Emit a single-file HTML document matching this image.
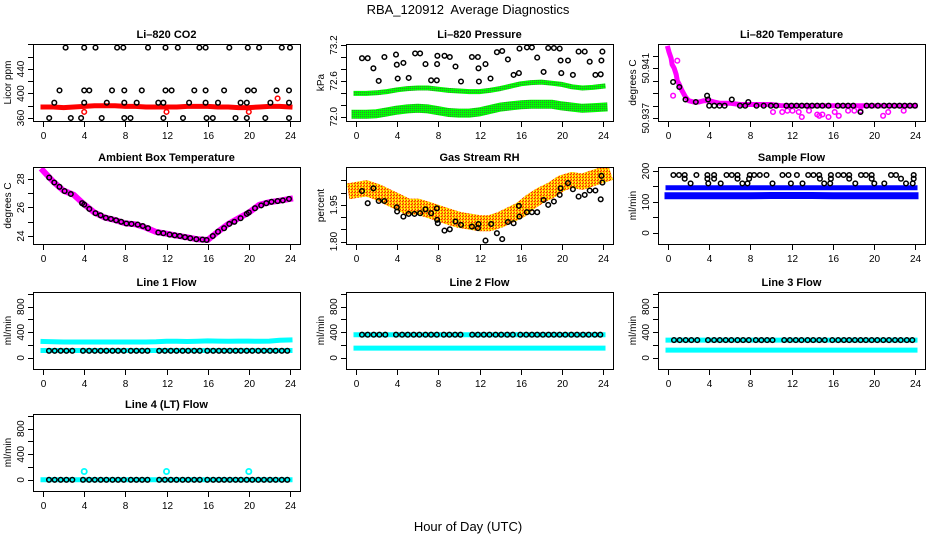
<!DOCTYPE html>
<html><head><meta charset="utf-8"><style>
html,body{margin:0;padding:0;background:#fff;}
svg{display:block;font-family:"Liberation Sans",Arial,sans-serif;}
</style></head><body>
<svg id="chart" width="936" height="540" viewBox="0 0 936 540" xmlns="http://www.w3.org/2000/svg">
<defs>
<pattern id="rhpat" width="3" height="3" patternUnits="userSpaceOnUse"><rect width="3" height="3" fill="#FFB000"/><rect x="0" y="0" width="1" height="1" fill="#FF2000"/><rect x="2" y="1" width="1" height="1" fill="#FFFF00"/><rect x="1" y="2" width="1" height="1" fill="#FF3000"/><rect x="2" y="2" width="1" height="1" fill="#FFFF40"/></pattern>
<pattern id="grpat" width="2" height="2" patternUnits="userSpaceOnUse"><rect width="2" height="2" fill="#00FF00"/><rect x="0" y="0" width="1" height="1" fill="#338833"/></pattern>
</defs>
<text x="468" y="14" text-anchor="middle" font-size="13" xml:space="preserve">RBA_120912  Average Diagnostics</text>
<text x="468" y="531" text-anchor="middle" font-size="13">Hour of Day (UTC)</text>
</svg>
<script>
const svg=document.getElementById('chart');
const NS='http://www.w3.org/2000/svg';
function mk(tag,attrs,parent){const e=document.createElementNS(NS,tag);for(const k in attrs)e.setAttribute(k,attrs[k]);(parent||svg).appendChild(e);return e;}

// ---------- data ----------
const xTicks=[0,4,8,12,16,20,24];
// CO2
const co2BandHours=[0,1,2,3,4,5,6,7,8,9,10,11,12,13,14,15,16,17,18,19,20,21,22,23,24];
const co2BandVals=[378,378,377,378,379,380,380,380,379,379,378,378,378,378,379,379,379,378,378,377,377,378,379,379,378];
const co2RedOutHours=[4.0,12.0,20.0,22.8];
const co2RedOutVals=[370,370,370,392];
const co2BlackHours=[2.2,4.0,5.1,7.2,7.8,10.2,11.9,13.1,15.2,15.8,18.1,19.9,21.0,23.2,24.0,
1.6,4.0,4.5,6.7,7.9,9.6,11.9,12.5,14.7,15.8,17.6,19.9,20.5,22.7,23.9,
1.1,4.0,6.2,7.9,9.1,11.2,11.7,14.2,15.8,17.0,19.2,19.8,22.1,23.9,
0.6,2.7,3.7,5.7,7.9,8.5,11.7,13.6,15.9,16.5,18.7,19.8,21.6,23.9];
const co2BlackVals=[475,475,475,475,475,475,475,475,475,475,475,475,475,475,475,
405,405,405,405,405,405,405,405,405,405,405,405,405,405,405,
385,385,385,385,385,385,385,385,385,385,385,385,385,385,
360,360,360,360,360,360,360,360,360,360,360,360,360,360];
// Pressure
const presHours=[0,1,2,3,4,5,6,7,8,9,10,11,12,13,14,15,16,17,18,19,20,21,22,23,24];
const presUpper=[72.39,72.39,72.40,72.42,72.45,72.47,72.48,72.48,72.46,72.44,72.43,72.42,72.42,72.44,72.47,72.51,72.55,72.57,72.58,72.56,72.54,72.50,72.48,72.49,72.51];
const presLower=[72.04,72.04,72.05,72.08,72.11,72.13,72.14,72.13,72.10,72.07,72.06,72.06,72.08,72.12,72.16,72.18,72.20,72.21,72.21,72.21,72.18,72.16,72.14,72.15,72.16];
const presBlackHours=[0.58,1.14,1.69,2.21,2.76,3.89,3.96,4.05,4.61,5.12,5.74,6.23,6.75,7.30,7.85,7.88,7.91,8.6,9.11,9.67,10.2,11.26,11.84,11.9,11.94,12.58,13.07,13.69,14.21,14.76,15.31,15.83,15.89,16.61,17.09,17.61,18.23,18.68,19.23,19.79,19.88,19.95,20.6,21.08,21.63,22.22,22.71,23.26,23.78,23.84,23.94];
const presBlackVals=[72.98,72.98,72.81,72.60,73.00,73.04,72.87,72.64,72.90,72.65,73.06,73.06,72.88,72.61,72.61,72.88,73.02,73.02,73.00,72.84,72.59,73.00,73.00,72.81,72.59,72.88,72.64,73.08,73.10,72.96,72.70,72.73,73.14,73.16,73.16,72.99,72.75,73.15,73.15,73.14,72.94,72.73,72.94,72.70,73.09,73.09,72.92,72.70,72.71,72.94,73.09];
// Li-820 temperature
const tmpMagHours=[0,0.1,0.3,0.4,0.6,0.8,0.9,1.1,1.3,1.5,1.7,2,2.5,3,3.5,4,4.5,5,6,7,8,9,10,11,12,13,14,15,16,17,18,19,20,21,22,23,24];
const tmpMagVals=[50.9426,50.9423,50.9418,50.9413,50.9410,50.9405,50.9400,50.9397,50.9393,50.9390,50.9387,50.9384,50.9383,50.9383,50.9384,50.9384,50.9383,50.9382,50.9382,50.9381,50.9381,50.9381,50.9381,50.9380,50.9380,50.9380,50.9380,50.9380,50.9380,50.9380,50.9380,50.9380,50.9380,50.9380,50.9380,50.9380,50.9380];
const tmpMagLowHours=[10.2,11.1,11.6,12.1,12.7,13.0,13.7,14.5,14.7,15.0,15.6,16.2,16.6,17.5,18.1,18.7,20.9,21.4,22.9,0.5,0.9];
const tmpMagLowVals=[50.9375,50.9375,50.9376,50.9376,50.9375,50.9371,50.9376,50.9373,50.9372,50.9373,50.9371,50.9375,50.9372,50.9376,50.9376,50.9376,50.9372,50.9375,50.9376,50.9388,50.9416];
const tmpBlackHours=[0.5,1.1,1.7,2.7,3.8,3.9,4.0,4.5,5.0,5.5,6.2,7.0,7.5,7.8,8.6,9.3,10.0,10.5,11.5,12.0,12.5,13.0,13.5,14.0,14.5,15.0,15.6,16.5,17.0,17.5,18.0,18.7,19.3,19.8,20.4,21.0,21.5,22.0,22.5,23.0,23.5,24.0];
const tmpBlackVals=[50.9399,50.9395,50.9385,50.9383,50.9388,50.9385,50.9380,50.9380,50.9380,50.9380,50.9385,50.9380,50.9380,50.9383,50.9380,50.9380,50.9380,50.9380,50.9380,50.9380,50.9380,50.9380,50.9380,50.9380,50.9380,50.9380,50.9380,50.9380,50.9380,50.9380,50.9380,50.9375,50.9380,50.9380,50.9380,50.9380,50.9380,50.9380,50.9380,50.9380,50.9380,50.9380];
// Ambient
const ambHours=[0,1,2,3,4,5,6,7,8,9,10,11,12,13,14,15,16,17,18,19,20,21,22,23,24];
const ambVals=[28.58,27.81,27.18,26.88,26.22,25.64,25.29,25.12,24.89,24.82,24.58,24.28,24.16,24.02,23.91,23.77,23.72,24.30,24.84,25.24,25.64,26.18,26.37,26.48,26.60];
const ambBlackHours=[0.6,1.1,1.6,2.1,2.7,3.8,4.0,4.5,5.1,5.6,6.1,6.6,7.1,7.6,8.1,8.6,9.2,9.7,10.2,11.2,11.7,12.3,12.8,13.3,13.8,14.3,14.9,15.5,15.9,16.5,17.0,17.6,18.1,18.6,19.2,19.8,20.0,20.6,21.2,21.7,22.2,22.8,23.3,23.9];
const ambBlackVals=[28.1,27.75,27.45,27.15,26.95,26.3,26.2,25.9,25.6,25.45,25.28,25.2,25.1,25.0,24.88,24.85,24.8,24.7,24.55,24.25,24.2,24.1,24.05,24.0,23.92,23.85,23.78,23.75,23.72,24.0,24.3,24.55,24.85,25.0,25.25,25.55,25.65,25.95,26.15,26.3,26.4,26.45,26.5,26.6];
// Gas RH
const rhHours=[0,1,2,3,4,5,6,7,8,9,10,11,12,13,14,15,16,17,18,19,20,21,22,23,24];
const rhVals=[2.011,2.018,2.004,1.984,1.964,1.943,1.943,1.930,1.916,1.902,1.889,1.882,1.875,1.875,1.889,1.909,1.930,1.964,1.991,2.011,2.039,2.052,2.045,2.059,2.073];
const rhBlackHours=[0.58,1.14,1.69,2.21,2.76,3.96,3.99,4.61,5.12,5.68,6.23,6.75,7.30,7.85,7.88,7.95,8.6,9.11,9.67,10.2,11.26,11.84,11.9,12.58,13.14,13.69,14.21,14.76,15.31,15.83,15.89,16.61,17.09,17.61,18.23,18.68,19.23,19.79,19.88,20.6,21.08,21.63,22.22,22.71,23.26,23.78,23.84,23.94];
const rhBlackVals=[2.007,1.957,2.018,1.966,1.966,1.940,1.923,1.902,1.913,1.913,1.916,1.932,1.916,1.936,1.889,1.875,1.845,1.850,1.882,1.868,1.861,1.855,1.872,1.804,1.872,1.834,1.810,1.880,1.875,1.946,1.902,1.920,1.920,1.920,1.970,1.950,1.964,1.991,2.018,2.039,2.014,1.984,1.991,2.009,2.009,1.973,2.069,2.041];
// Sample flow
const sfHours=[0,2,4,6,8,10,12,14,16,18,20,22,24];
const sfUpper=[146,146,146,146,146,146,146,146,146,146,146,146,146];
const sfLower=[120,120,120,120,120,121,121,121,120,120,120,120,120];
const sfBlackHours=[0.52,1.07,1.62,2.76,3.83,4.48,5.68,6.2,6.75,7.95,8.37,8.92,9.57,11.13,11.71,12.52,13.62,14.14,14.69,15.83,16.54,17.06,17.61,18.75,19.23,19.79,21.67,22.15,23.87,
2.2,3.92,5.12,7.23,7.72,10.15,11.94,13.07,15.18,15.76,18.2,20.05,21.02,23.13,23.78,
1.62,3.83,4.48,6.75,7.88,14.76,15.83,17.61,19.79,22.64,23.87];
const sfBlackVals=[187,187,187,187,187,187,187,187,187,187,187,187,187,187,187,187,187,187,187,187,187,187,187,187,187,187,187,187,187,
160,160,160,160,160,160,160,160,160,160,160,160,160,160,160,
175,175,175,175,175,175,175,175,175,175,175];
// Line flows
const flowBlackHours=[0.58,1.14,1.72,2.27,2.85,3.89,4.48,5.03,5.61,6.16,6.75,7.30,7.85,8.53,9.08,9.63,10.15,11.29,11.84,12.42,12.97,13.56,14.11,14.69,15.24,15.96,16.54,17.09,17.61,18.16,18.71,19.23,19.79,20.34,20.92,21.47,22.06,22.61,23.2,23.74];
const flowHours=[0,1,2,3,4,5,6,7,8,9,10,11,12,13,14,15,16,17,18,19,20,21,22,23,24];
const l1Upper=[255,250,248,247,248,247,247,247,247,248,248,250,258,260,255,258,265,262,260,262,262,258,262,275,280];
const l1Lower=[115,115,115,115,115,115,115,115,115,115,115,115,115,115,115,115,115,115,115,115,115,115,115,115,115];
const l1Black=110;
const l2Upper=[361,361,361,361,361,361,361,361,361,361,361,361,361,361,361,361,361,361,361,361,361,361,361,361,361];
const l2Lower=[152,152,152,152,152,152,152,152,152,152,152,152,152,152,152,152,152,152,152,152,152,152,152,152,152];
const l2Black=361;
const l3Upper=[278,278,278,278,278,278,278,278,278,278,278,278,278,278,278,278,278,278,278,278,278,278,278,278,278];
const l3Lower=[121,121,121,121,121,121,121,121,121,121,121,121,121,121,121,121,121,121,121,121,121,121,121,121,121];
const l3Black=278;
const l4Band=[0,0,0,0,0,0,0,0,0,0,0,0,0,0,0,0,0,0,0,0,0,0,0,0,0];
const l4OutHours=[4.0,12.0,20.0];
const l4OutVals=[130,130,130];
const l4Black=0;

// ---------- layout ----------
const colL=[33,346,658], rowT=[44,167,292,414], PW=267, PH=77;
function panel(name,col,row,ymin,ymax,title,ylab){
  const L=colL[col],T=rowT[row];
  const g=mk('g',{},svg);
  
  
  const p={L,T,g,x:h=>L+10+h*247/24,y:v=>T+PH*(ymax-v)/(ymax-ymin)};
  const t=mk('text',{x:L+PW/2,y:T-6,'text-anchor':'middle','font-size':'11','font-weight':'bold'},g);
  t.textContent=title;
  
  
  const yl=mk('text',{x:0,y:0,transform:`translate(${L-22},${T+PH/2}) rotate(-90)`,'text-anchor':'middle','font-size':'10'},g);
  yl.textContent=ylab;
  
  
  const clip=mk('clipPath',{id:'clip-'+name},g);
  mk('rect',{x:L,y:T,width:PW,height:PH},clip);
  p.data=mk('g',{'clip-path':`url(#clip-${name})`},g);
  
  
  p.name=name;
  return p;
}
function axes(p,yt,ylabels){
  const g=p.g;
  const box=mk('rect',{x:p.L+0.5,y:p.T+0.5,width:PW,height:PH,fill:'none',stroke:'#000','stroke-width':1},g);
  
  
  const xa=mk('g',{},g);
  
  
  for(const h of xTicks){
    const X=Math.round(p.x(h))+0.5;
    const tk=mk('line',{x1:X,x2:X,y1:p.T+PH+1,y2:p.T+PH+6,stroke:'#000'},xa);
    
    
    const tl=mk('text',{x:X,y:p.T+PH+18,'text-anchor':'middle','font-size':'10'},xa);
    tl.textContent=String(h);
    
    
  }
  const ya=mk('g',{},g);
  
  
  for(const v of yt){
    const Y=Math.round(p.y(v))+0.5;
    if(Y<p.T-1||Y>p.T+PH+2)continue;
    const tk=mk('line',{x1:p.L-5,x2:p.L,y1:Y,y2:Y,stroke:'#000'},ya);
    
    
  }
  for(const lab of ylabels){
    const Y=p.y(parseFloat(lab));
    const tl=mk('text',{x:0,y:0,transform:`translate(${p.L-9},${Y}) rotate(-90)`,'text-anchor':'middle','font-size':'10'},ya);
    tl.textContent=lab;
    
    
  }
}
function band(p,hours,vals,color,w,name){
  const d=hours.map((h,i)=>(i?'L':'M')+p.x(h).toFixed(1)+' '+p.y(vals[i]).toFixed(1)).join(' ');
  const e=mk('path',{d,fill:'none',stroke:color,'stroke-width':w,'stroke-linejoin':'round','stroke-linecap':'square'},p.data);
  
  
}
function pts(p,hours,vals,color,name,r,sw){
  const g=mk('g',{},p.data);
  
  
  hours.forEach((h,i)=>{
    const v=Array.isArray(vals)?vals[i]:vals;
    const c=mk('circle',{cx:p.x(h).toFixed(1),cy:p.y(v).toFixed(1),r:r||2.3,fill:'none',stroke:color,'stroke-width':sw||1.5},g);
    
    
  });
}

// Li-820 CO2
let p=panel('co2',0,0,355.1,480.8,'Li\u2013820 CO2','Licor ppm');
band(p,co2BandHours,co2BandVals,'#FF0000',5,'co2-red-band');
pts(p,co2RedOutHours,co2RedOutVals,'#FF0000','co2-red-outliers');
pts(p,co2BlackHours,co2BlackVals,'#000','co2-black-points');
axes(p,[360,380,400,420,440,460,480],['360','400','440']);

// Pressure
p=panel('pressure',1,0,71.928,73.217,'Li\u2013820 Pressure','kPa');
band(p,presHours,presUpper,'url(#grpat)',5,'pressure-upper-band');
band(p,presHours,presLower,'url(#grpat)',9,'pressure-lower-band');
pts(p,presBlackHours,presBlackVals,'#000','pressure-black-points');
axes(p,[72.0,72.2,72.4,72.6,72.8,73.0,73.2],['72.0','72.6','73.2']);

// Temperature
p=panel('li820-temp',2,0,50.93678,50.94294,'Li\u2013820 Temperature','degrees C');
band(p,tmpMagHours,tmpMagVals,'#FF00FF',5,'temp-magenta-band');
pts(p,tmpMagLowHours,tmpMagLowVals,'#FF00FF','temp-magenta-scatter');
pts(p,tmpBlackHours,tmpBlackVals,'#000','temp-black-points');
axes(p,[50.937,50.938,50.939,50.940,50.941,50.942],['50.937','50.941']);

// Ambient
p=panel('ambient',0,1,23.44,28.84,'Ambient Box Temperature','degrees C');
band(p,ambHours,ambVals,'#FF00FF',6,'ambient-magenta-band');
pts(p,ambBlackHours,ambBlackVals,'#000','ambient-black-points');
axes(p,[24,25,26,27,28],['24','26','28']);

// Gas RH
p=panel('gas-rh',1,1,1.790,2.105,'Gas Stream RH','percent');
band(p,rhHours,rhVals,'url(#rhpat)',16,'rh-orange-band');
pts(p,rhBlackHours,rhBlackVals,'#000','rh-black-points');
axes(p,[1.80,1.85,1.90,1.95,2.00,2.05],['1.80','1.95']);

// Sample flow
p=panel('sample-flow',2,1,-35.5,212.9,'Sample Flow','ml/min');
band(p,sfHours,sfUpper,'#0000FF',5,'sample-upper-band');
band(p,sfHours,sfLower,'#0000FF',7,'sample-lower-band');
pts(p,sfBlackHours,sfBlackVals,'#000','sample-black-points');
axes(p,[0,50,100,150,200],['0','100','200']);

// Line flows
const flowTicks=[0,200,400,600,800,1000];
function flowPanel(name,col,row,title,upper,lower,blackVal){
  const q=panel(name,col,row,-175,1030,title,'ml/min');
  band(q,flowHours,upper,'#00FFFF',5,name+'-cyan-upper');
  if(lower)band(q,flowHours,lower,'#00FFFF',5,name+'-cyan-lower');
  pts(q,flowBlackHours,blackVal,'#000',name+'-black-points');
  return q;
}
p=flowPanel('line1-flow',0,2,'Line 1 Flow',l1Upper,l1Lower,l1Black);
axes(p,flowTicks,['0','400','800']);
p=flowPanel('line2-flow',1,2,'Line 2 Flow',l2Upper,l2Lower,l2Black);
axes(p,flowTicks,['0','400','800']);
p=flowPanel('line3-flow',2,2,'Line 3 Flow',l3Upper,l3Lower,l3Black);
axes(p,flowTicks,['0','400','800']);
p=flowPanel('line4-flow',0,3,'Line 4 (LT) Flow',l4Band,null,l4Black);
pts(p,l4OutHours,l4OutVals,'#00FFFF','line4-cyan-outliers',2.6,1.8);
axes(p,flowTicks,['0','400','800']);
</script>
</body></html>
